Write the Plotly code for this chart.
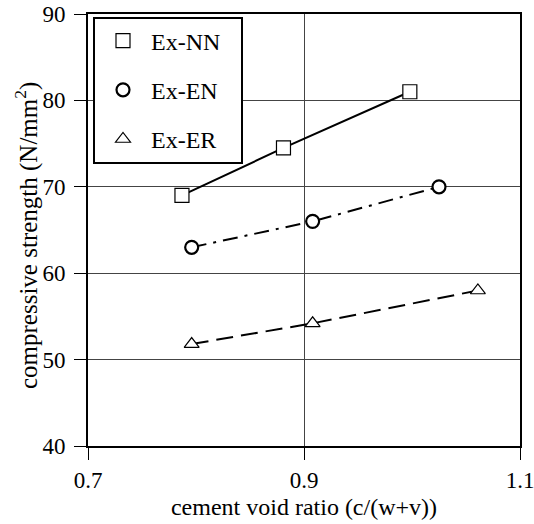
import plotly.graph_objects as go

# data
x_nn = [0.787, 0.881, 0.998]
y_nn = [69.0, 74.5, 81.0]
x_en = [0.796, 0.908, 1.025]
y_en = [63.0, 66.0, 70.0]
x_er = [0.796, 0.908, 1.061]
y_er = [51.8, 54.2, 58.0]
names = ["Ex-NN", "Ex-EN", "Ex-ER"]
x_ticks = [0.7, 0.9, 1.1]
x_tick_text = ["0.7", "0.9", "1.1"]
y_ticks = [40, 50, 60, 70, 80, 90]

FONT = "Liberation Serif"

fig = go.Figure()

series = [
    (x_nn, y_nn, names[0], "square", "solid", 1.2, 14),
    (x_en, y_en, names[1], "circle", "15px,7px,3px,7px", 2.2, 13),
    (x_er, y_er, names[2], "triangle-up", "17px,8px", 1.2, 13),
]

for xs, ys, nm, sym, dash, mlw, ms in series:
    fig.add_trace(go.Scatter(
        x=xs, y=ys, mode="lines", showlegend=False,
        line=dict(color="black", width=2, dash=dash),
    ))
for xs, ys, nm, sym, dash, mlw, ms in series:
    fig.add_trace(go.Scatter(
        x=xs, y=ys, mode="markers", name=nm, legendgroup=nm,
        marker=dict(symbol=sym, size=ms, color="white",
                    line=dict(color="black", width=mlw)),
    ))

L, R, T, B = 88, 14, 14, 78

pw = 534 - L - R
ph = 524 - T - B
def px_x(p):
    return (p - L) / pw
def px_y(p):
    return 1 - (p - T) / ph

# legend frame
fig.add_shape(type="rect", xref="paper", yref="paper",
              x0=px_x(94), x1=px_x(242), y0=px_y(163), y1=px_y(18),
              line=dict(color="black", width=2), fillcolor="white", layer="above")

# y-axis title as rotated annotation
fig.add_annotation(text="compressive strength (N/mm<sup>2</sup>)",
                   xref="paper", yref="paper", x=px_x(27), y=px_y(236),
                   xanchor="center", yanchor="middle", textangle=-90,
                   showarrow=False, font=dict(family=FONT, size=25, color="black"))

fig.update_layout(
    width=534, height=524,
    margin=dict(l=L, r=R, t=T, b=B, autoexpand=False),
    paper_bgcolor="white", plot_bgcolor="white",
    font=dict(family=FONT, size=23, color="black"),
    showlegend=True,
    legend=dict(x=px_x(95), y=px_y(18.5), xanchor="left", yanchor="top",
                bgcolor="rgba(0,0,0,0)", borderwidth=0,
                font=dict(family=FONT, size=24, color="black"),
                itemwidth=46, tracegroupgap=15),
    xaxis=dict(range=[0.7, 1.1], tickvals=x_ticks, ticktext=x_tick_text,
               showgrid=True, gridcolor="#444", gridwidth=1,
               showline=True, linecolor="black", linewidth=2, mirror=True,
               ticks="outside", ticklen=12, tickwidth=1, tickcolor="black",
               zeroline=False, automargin=False, ticklabeloverflow="allow",
               title=dict(text="cement void ratio (c/(w+v))", standoff=7,
                          font=dict(family=FONT, size=24))),
    yaxis=dict(range=[40, 90], tickvals=y_ticks,
               showgrid=True, gridcolor="#444", gridwidth=1,
               showline=True, linecolor="black", linewidth=2, mirror=True,
               ticks="outside", ticklen=12, tickwidth=1, tickcolor="black",
               zeroline=False, ticklabelstandoff=4, automargin=False,
               ticklabeloverflow="allow"),
)

fig.write_html("out.html")
